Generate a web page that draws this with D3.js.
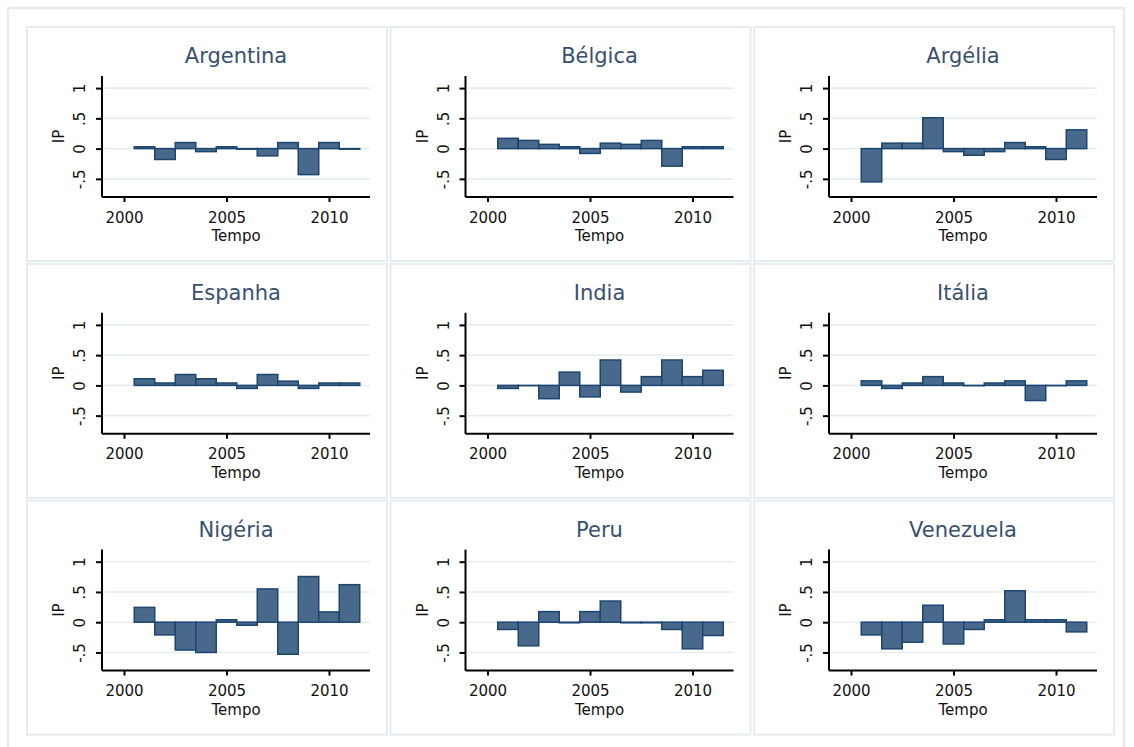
<!DOCTYPE html>
<html>
<head>
<meta charset="utf-8">
<script src="https://cdn.jsdelivr.net/npm/d3@7"></script>
<style>
  html, body { margin: 0; padding: 0; background: #ffffff; }
  svg { display: block; }
  text { font-family: "DejaVu Sans", Verdana, sans-serif; }
</style>
</head>
<body>
<svg id="chart" width="1134" height="747"></svg>
<script>
// Years shown on each panel
const years = [2001, 2002, 2003, 2004, 2005, 2006, 2007, 2008, 2009, 2010, 2011];

// Panel order (row by row)
const countries = ["Argentina", "Bélgica", "Argélia", "Espanha", "India", "Itália", "Nigéria", "Peru", "Venezuela"];

// IP by country, 2001–2011
const argentina = [0.03, -0.18, 0.10, -0.05, 0.03, -0.01, -0.12, 0.10, -0.43, 0.10, -0.01];
const belgica   = [0.17, 0.135, 0.07, 0.03, -0.08, 0.09, 0.07, 0.135, -0.29, 0.03, 0.03];
const argelia   = [-0.55, 0.09, 0.09, 0.51, -0.05, -0.11, -0.05, 0.10, 0.03, -0.18, 0.31];
const espanha   = [0.11, 0.04, 0.18, 0.11, 0.04, -0.05, 0.18, 0.07, -0.05, 0.04, 0.04];
const india     = [-0.05, -0.005, -0.22, 0.22, -0.19, 0.42, -0.11, 0.145, 0.42, 0.145, 0.25];
const italia    = [0.075, -0.05, 0.04, 0.145, 0.04, -0.005, 0.04, 0.075, -0.25, -0.005, 0.075];
const nigeria   = [0.245, -0.21, -0.46, -0.50, 0.04, -0.05, 0.55, -0.53, 0.755, 0.17, 0.62];
const peru      = [-0.12, -0.39, 0.175, -0.01, 0.175, 0.35, -0.01, -0.01, -0.12, -0.44, -0.22];
const venezuela = [-0.21, -0.44, -0.33, 0.28, -0.36, -0.12, 0.04, 0.52, 0.04, 0.04, -0.16];

const seriesValues = [argentina, belgica, argelia, espanha, india, italia, nigeria, peru, venezuela];

// Axis ticks
const xTicks = [2000, 2005, 2010];
const yTicks = [-0.5, 0, 0.5, 1];
const yTickLabels = ["-.5", "0", ".5", "1"];
const xTitle = "Tempo";
const yTitle = "IP";

// Layout
const svg = d3.select("#chart");
const cols = 3;
const panelX0 = 27, panelY0 = 27;
const stepX = 363.5, stepY = 236.8;
const panelW = 360, panelH = 234;
const plot = { left: 75, right: 343, top: 49, bottom: 170 };

const fillColor = "#48698b";
const strokeColor = "#1c4670";
const gridColor = "#e5eef1";
const frameColor = "#e4ecef";
const axisFont = "15px";

// Outer graph frame
svg.append("rect")
  .attr("x", 8).attr("y", 8)
  .attr("width", 1116).attr("height", 760)
  .attr("fill", "#ffffff")
  .attr("stroke", frameColor).attr("stroke-width", 2.5);

const x = d3.scaleLinear().domain([2000, 2010]).range([97, 302]);
const y = d3.scaleLinear().domain([-0.8, 1.2]).range([plot.bottom, plot.top]);
const barW = x(2001) - x(2000);

countries.forEach((name, i) => {
  const c = i % cols, r = Math.floor(i / cols);
  const g = svg.append("g")
    .attr("transform", `translate(${panelX0 + c * stepX},${panelY0 + r * stepY})`);

  // Panel frame
  g.append("rect")
    .attr("x", 0).attr("y", 0)
    .attr("width", panelW).attr("height", panelH)
    .attr("fill", "#ffffff")
    .attr("stroke", frameColor).attr("stroke-width", 2);

  // Horizontal grid lines
  g.append("g").selectAll("line")
    .data(yTicks)
    .join("line")
    .attr("x1", plot.left + 2).attr("x2", plot.right)
    .attr("y1", d => y(d)).attr("y2", d => y(d))
    .attr("stroke", gridColor).attr("stroke-width", 1.6);

  // Bars
  const vals = seriesValues[i];
  g.append("g").selectAll("rect")
    .data(years.map((yr, k) => ({ yr, v: vals[k] })))
    .join("rect")
    .attr("x", d => x(d.yr) - barW / 2)
    .attr("width", barW)
    .attr("y", d => Math.min(y(d.v), y(0)))
    .attr("height", d => Math.abs(y(d.v) - y(0)))
    .attr("fill", fillColor)
    .attr("stroke", strokeColor)
    .attr("stroke-width", 1.5);

  // Y axis
  const yAxis = g.append("g")
    .attr("transform", `translate(${plot.left},0)`)
    .call(d3.axisLeft(y).tickValues(yTicks).tickSize(6).tickPadding(0)
      .tickFormat((d, k) => yTickLabels[k]));
  yAxis.select(".domain")
    .attr("d", `M0,${plot.top}V${plot.bottom}`)
    .attr("stroke", "#000").attr("stroke-width", 2);
  yAxis.selectAll(".tick line").attr("stroke", "#000").attr("stroke-width", 2);
  yAxis.selectAll(".tick text")
    .attr("x", 0).attr("dy", 0)
    .attr("transform", "translate(-17,0) rotate(-90)")
    .attr("text-anchor", "middle")
    .attr("fill", "#111")
    .style("font-size", axisFont)
    .style("font-family", "'DejaVu Sans', Verdana, sans-serif");

  // X axis
  const xAxis = g.append("g")
    .attr("transform", `translate(0,${plot.bottom})`)
    .call(d3.axisBottom(x).tickValues(xTicks).tickSize(5).tickPadding(0)
      .tickFormat(d3.format("d")));
  xAxis.select(".domain")
    .attr("d", `M${plot.left},0H${plot.right}`)
    .attr("stroke", "#000").attr("stroke-width", 2);
  xAxis.selectAll(".tick line").attr("stroke", "#000").attr("stroke-width", 2);
  xAxis.selectAll(".tick text")
    .attr("y", 25.5).attr("dy", 0)
    .attr("fill", "#111")
    .style("font-size", axisFont)
    .style("font-family", "'DejaVu Sans', Verdana, sans-serif");

  // Axis titles
  g.append("text")
    .attr("x", (plot.left + plot.right) / 2).attr("y", 214)
    .attr("text-anchor", "middle")
    .attr("fill", "#111")
    .style("font-size", axisFont)
    .text(xTitle);
  g.append("text")
    .attr("transform", `translate(37,${(plot.top + plot.bottom) / 2}) rotate(-90)`)
    .attr("text-anchor", "middle")
    .attr("fill", "#111")
    .style("font-size", axisFont)
    .text(yTitle);

  // Panel title
  g.append("text")
    .attr("x", (plot.left + plot.right) / 2).attr("y", 36)
    .attr("text-anchor", "middle")
    .attr("fill", "#3a4f6f")
    .style("font-size", "21px")
    .text(name);
});
</script>
</body>
</html>
